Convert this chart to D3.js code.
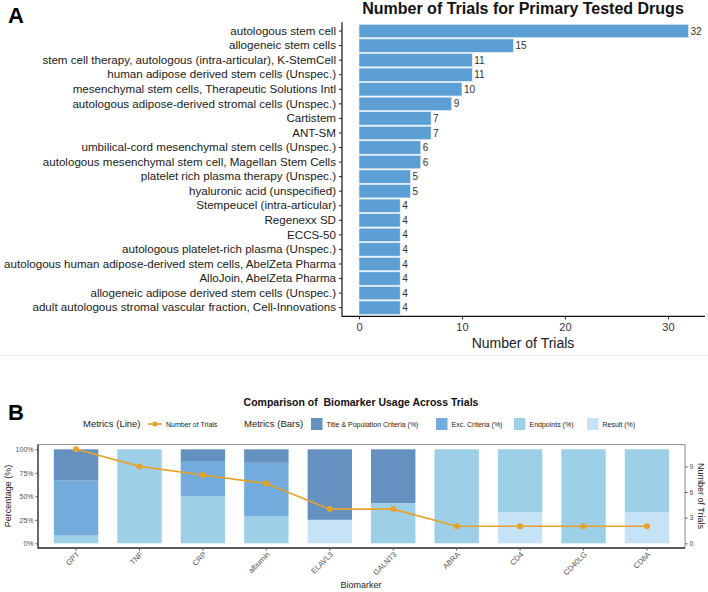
<!DOCTYPE html>
<html><head><meta charset="utf-8">
<script src="https://cdn.jsdelivr.net/npm/d3@7"></script>
<style>body{margin:0;background:#fff}svg{display:block;font-family:"Liberation Sans",Arial,Helvetica,sans-serif}</style>
</head><body><svg id="c" width="708" height="592"></svg>
<script>
// ---- Panel A data ----
const drugs = ["autologous stem cell","allogeneic stem cells","stem cell therapy, autologous (intra-articular), K-StemCell","human adipose derived stem cells (Unspec.)","mesenchymal stem cells, Therapeutic Solutions Intl","autologous adipose-derived stromal cells (Unspec.)","Cartistem","ANT-SM","umbilical-cord mesenchymal stem cells (Unspec.)","autologous mesenchymal stem cell, Magellan Stem Cells","platelet rich plasma therapy (Unspec.)","hyaluronic acid (unspecified)","Stempeucel (intra-articular)","Regenexx SD","ECCS-50","autologous platelet-rich plasma (Unspec.)","autologous human adipose-derived stem cells, AbelZeta Pharma","AlloJoin, AbelZeta Pharma","allogeneic adipose derived stem cells (Unspec.)","adult autologous stromal vascular fraction, Cell-Innovations"];
const trials = [32,15,11,11,10,9,7,7,6,6,5,5,4,4,4,4,4,4,4,4];
const xTicksA = [0,10,20,30];

// ---- Panel B data ----
const biomarkers = ["GPT","TNF","CRP","albumin","ELAVL3","GALNT3","ABRA","CD4","CD40LG","CD8A"];
const nTrials = [11,9,8,7,4,4,2,2,2,2];
const resultPct    = [0,0,0,0,25,0,0,33.3,0,33.3];
const endpointsPct = [8.3,100,50,28.6,0,42.9,100,66.7,100,66.7];
const excPct       = [58.4,0,37.5,57.1,0,0,0,0,0,0];
const titlePct     = [33.3,0,12.5,14.3,75,57.1,0,0,0,0];
const seriesNames = ["Title & Population Criteria (%)","Exc. Criteria (%)","Endpoints (%)","Result (%)"];
const pctTicks = [0,25,50,75,100];
const trialTicks = [0,3,6,9];

const svg = d3.select("#c");

// ================= Panel A =================
const gA = svg.append("g");
const yA = d3.scaleBand().domain(drugs).range([22.3,316.4]).paddingInner(0.08).paddingOuter(0.14);
const xA = d3.scaleLinear().domain([-1.65,33.6]).range([342,705]);

gA.append("text").attr("x",8).attr("y",23).attr("font-size",22).attr("font-weight","bold").text("A");
gA.append("text").attr("x",523).attr("y",14).attr("text-anchor","middle").attr("font-size",16).attr("font-weight","bold").attr("fill","#111").text("Number of Trials for Primary Tested Drugs");

gA.selectAll("rect.bar").data(drugs).enter().append("rect")
  .attr("x",xA(0)).attr("y",d=>yA(d)).attr("height",yA.bandwidth())
  .attr("width",(d,i)=>xA(trials[i])-xA(0))
  .attr("fill","#5b9fd4").attr("stroke","#e8f1f9").attr("stroke-width",0.6);
gA.selectAll("text.val").data(drugs).enter().append("text")
  .attr("x",(d,i)=>xA(trials[i])+2).attr("y",d=>yA(d)+yA.bandwidth()/2+3.6)
  .attr("font-size",10).attr("fill","#333").text((d,i)=>trials[i]);

const axLA = gA.append("g").attr("transform","translate(342,0)")
  .call(d3.axisLeft(yA).tickSize(3).tickPadding(3));
axLA.select(".domain").attr("d","M0,22.3V316.4").attr("stroke","#111").attr("stroke-width",1.2);
axLA.selectAll("text").attr("font-size",11.6).attr("fill","#1a1a1a").attr("font-family",null);
axLA.selectAll("line").attr("stroke","#222");

const axBA = gA.append("g").attr("transform","translate(0,316.4)")
  .call(d3.axisBottom(xA).tickValues(xTicksA).tickSize(3).tickPadding(4));
axBA.select(".domain").attr("d","M342,0H705").attr("stroke","#111").attr("stroke-width",1.2);
axBA.selectAll("text").attr("font-size",11).attr("fill","#333").attr("font-family",null);
axBA.selectAll("line").attr("stroke","#222");
gA.append("text").attr("x",523).attr("y",348).attr("text-anchor","middle").attr("font-size",14).attr("fill","#222").text("Number of Trials");

svg.append("line").attr("x1",0).attr("x2",708).attr("y1",355.5).attr("y2",355.5).attr("stroke","#f0f0f0");

// ================= Panel B =================
const gB = svg.append("g");
gB.append("text").attr("x",8).attr("y",420).attr("font-size",22).attr("font-weight","bold").text("B");
gB.append("text").attr("x",361).attr("y",406).attr("text-anchor","middle").attr("font-size",10.5).attr("font-weight","bold").attr("fill","#111").attr("xml:space","preserve").text("Comparison of  Biomarker Usage Across Trials");

const colors = {"Title & Population Criteria (%)":"#6591c0","Exc. Criteria (%)":"#73acdc","Endpoints (%)":"#9dcfe7","Result (%)":"#c6e2f6"};
const lineColor = "#e8a128";

// legend
const lg = gB.append("g");
lg.append("text").attr("x",83).attr("y",427).attr("font-size",9.5).attr("fill","#222").text("Metrics (Line)");
lg.append("line").attr("x1",148).attr("x2",162).attr("y1",424).attr("y2",424).attr("stroke",lineColor).attr("stroke-width",1.6);
lg.append("circle").attr("cx",155).attr("cy",424).attr("r",2.6).attr("fill",lineColor);
lg.append("text").attr("x",166).attr("y",426.5).attr("font-size",7).attr("fill","#222").text("Number of Trials");
lg.append("text").attr("x",244).attr("y",427).attr("font-size",9.5).attr("fill","#222").text("Metrics (Bars)");
const legX = [311,436,514,587];
seriesNames.forEach((s,i)=>{
  lg.append("rect").attr("x",legX[i]).attr("y",418).attr("width",11.5).attr("height",12).attr("fill",colors[s]);
  lg.append("text").attr("x",legX[i]+15.5).attr("y",426.5).attr("font-size",7).attr("fill","#222").text(s);
});

const px0 = 38, px1 = 685, py0 = 444.6, py1 = 548;
const xB = d3.scaleBand().domain(biomarkers).range([px0,px1]).paddingInner(0.3).paddingOuter(0.25);
const yB = d3.scaleLinear().domain([-5,105]).range([py1,py0]);
const yT = d3.scaleLinear().domain([-0.55,11.55]).range([py1,py0]);

// stacked bars (bottom: Result, Endpoints, Exc, Title)
const rows = biomarkers.map((b,i)=>({b, "Result (%)":resultPct[i], "Endpoints (%)":endpointsPct[i], "Exc. Criteria (%)":excPct[i], "Title & Population Criteria (%)":titlePct[i]}));
const stack = d3.stack().keys(["Result (%)","Endpoints (%)","Exc. Criteria (%)","Title & Population Criteria (%)"])(rows);
stack.forEach(layer=>{
  gB.selectAll(null).data(layer).enter().append("rect")
    .attr("x",d=>xB(d.data.b)).attr("width",xB.bandwidth())
    .attr("y",d=>yB(d[1])).attr("height",d=>Math.max(0,yB(d[0])-yB(d[1])))
    .attr("fill",colors[layer.key]);
});

// line
const lineGen = d3.line().x((d,i)=>xB(biomarkers[i])+xB.bandwidth()/2).y(d=>yT(d));
gB.append("path").datum(nTrials).attr("d",lineGen).attr("fill","none").attr("stroke",lineColor).attr("stroke-width",1.6);
gB.selectAll("circle.pt").data(nTrials).enter().append("circle")
  .attr("cx",(d,i)=>xB(biomarkers[i])+xB.bandwidth()/2).attr("cy",d=>yT(d)).attr("r",3).attr("fill",lineColor);

// panel border
gB.append("rect").attr("x",px0).attr("y",py0).attr("width",px1-px0).attr("height",py1-py0).attr("fill","none").attr("stroke","#8c8c8c").attr("stroke-width",1);
gB.append("path").attr("d",`M${px0},${py0}V${py1}H${px1}`).attr("fill","none").attr("stroke","#3a3a3a").attr("stroke-width",1.3);

// axes
const axL = gB.append("g").attr("transform",`translate(${px0},0)`)
  .call(d3.axisLeft(yB).tickValues(pctTicks).tickFormat(d=>d+"%").tickSize(2.5).tickPadding(2));
axL.select(".domain").remove();
axL.selectAll("text").attr("font-size",7).attr("fill","#4d4d4d").attr("font-family",null);
axL.selectAll("line").attr("stroke","#555");

const axR = gB.append("g").attr("transform",`translate(${px1},0)`)
  .call(d3.axisRight(yT).tickValues(trialTicks).tickSize(2.5).tickPadding(2));
axR.select(".domain").remove();
axR.selectAll("text").attr("font-size",7).attr("fill","#4d4d4d").attr("font-family",null);
axR.selectAll("line").attr("stroke","#555");

const axB = gB.append("g").attr("transform",`translate(0,${py1})`)
  .call(d3.axisBottom(xB).tickSize(2.5).tickPadding(2));
axB.select(".domain").remove();
axB.selectAll("line").attr("stroke","#555");
axB.selectAll("text").attr("font-size",7.6).attr("fill","#4d4d4d").attr("font-family",null)
  .attr("text-anchor","end").attr("dy","0.35em").attr("transform","translate(2,5) rotate(-45)").attr("y",0).attr("x",0);

gB.append("text").attr("transform","translate(11,496) rotate(-90)").attr("text-anchor","middle").attr("font-size",9).attr("fill","#222").text("Percentage (%)");
gB.append("text").attr("transform","translate(698,496) rotate(90)").attr("text-anchor","middle").attr("font-size",9).attr("fill","#222").text("Number of Trials");
gB.append("text").attr("x",361).attr("y",588).attr("text-anchor","middle").attr("font-size",9).attr("fill","#222").text("Biomarker");
</script></body></html>
